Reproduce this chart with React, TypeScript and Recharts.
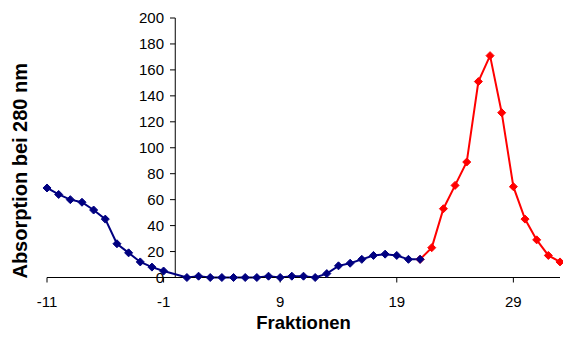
import { LineChart, Line, XAxis, YAxis, ReferenceLine } from 'recharts';

const blueFractions = [-11, -10, -9, -8, -7, -6, -5, -4, -3, -2, -1, 1, 2, 3, 4, 5, 6, 7, 8, 9, 10, 11, 12, 13, 14, 15, 16, 17, 18, 19, 20, 21];
const blueValues = [69, 64, 60, 58, 52, 45, 26, 19, 12, 8, 5, 0, 1, 0, 0, 0, 0, 0, 1, 0, 1, 1, 0, 3, 9, 11, 14, 17, 18, 17, 14, 14];

const redFractions = [21, 22, 23, 24, 25, 26, 27, 28, 29, 30, 31, 32, 33];
const redValues = [14, 23, 53, 71, 89, 151, 171, 127, 70, 45, 29, 17, 12];

const xTicks = [-11, -1, 9, 19, 29];
const yTicks = [0, 20, 40, 60, 80, 100, 120, 140, 160, 180, 200];

const blueData = blueFractions.map((x, i) => ({ x, y: blueValues[i] }));
const redData = redFractions.map((x, i) => ({ x, y: redValues[i] }));

const FONT = '"Liberation Sans", Arial, sans-serif';

function Diamond(color: string) {
  return (props: any) => {
    const { cx, cy, index } = props;
    if (cx == null || cy == null) return <g key={index} />;
    const r = 4;
    return (
      <polygon
        key={index}
        points={`${cx},${cy - r} ${cx + r},${cy} ${cx},${cy + r} ${cx - r},${cy}`}
        fill={color}
        stroke={color}
        strokeWidth={1}
      />
    );
  };
}

function YTitle(props: any) {
  const { viewBox } = props;
  const x = 20;
  const y = viewBox.y + viewBox.height / 2 + 23;
  return (
    <text
      x={x}
      y={y}
      transform={`rotate(-90 ${x} ${y})`}
      textAnchor="middle"
      dominantBaseline="central"
      fontFamily={FONT}
      fontWeight="bold"
      fontSize={20}
      fill="#000"
    >
      Absorption bei 280 nm
    </text>
  );
}

export default function App() {
  return (
    <div style={{ position: 'absolute', left: 0, top: 0, width: 563, height: 342 }}>
      <LineChart width={563} height={342} margin={{ top: 18, right: 3, bottom: 4.5, left: 0 }}>
        <XAxis
          type="number"
          dataKey="x"
          domain={[-11, 33]}
          ticks={xTicks}
          tickSize={5}
          tickMargin={14}
          height={60}
          stroke="#000"
          tick={{ fill: '#000', fontSize: 15, fontFamily: FONT }}
          label={{ value: 'Fraktionen', position: 'insideBottom', offset: 8.5, fill: '#000', fontSize: 18.5, fontWeight: 'bold', fontFamily: FONT }}
        />
        <YAxis
          type="number"
          dataKey="y"
          domain={[0, 200]}
          ticks={yTicks}
          width={47}
          axisLine={false}
          tickLine={false}
          tick={false}
          label={<YTitle />}
        />
        <ReferenceLine
          segment={[{ x: 0, y: 0 }, { x: 0, y: 200 }]}
          stroke="#000"
          strokeWidth={1}
        />
        {yTicks.map((t) => (
          <ReferenceLine
            key={t}
            segment={[{ x: -0.45, y: t }, { x: 0, y: t }]}
            stroke="#000"
            strokeWidth={1}
            label={{ value: String(t), position: 'left', offset: 6, fill: '#000', fontSize: 15, fontFamily: FONT }}
          />
        ))}
        <Line
          data={redData}
          dataKey="y"
          stroke="#ff0000"
          strokeWidth={2}
          dot={Diamond('#ff0000')}
          activeDot={false}
          isAnimationActive={false}
        />
        <Line
          data={blueData}
          dataKey="y"
          stroke="#000080"
          strokeWidth={2}
          dot={Diamond('#000080')}
          activeDot={false}
          isAnimationActive={false}
        />
      </LineChart>
    </div>
  );
}
